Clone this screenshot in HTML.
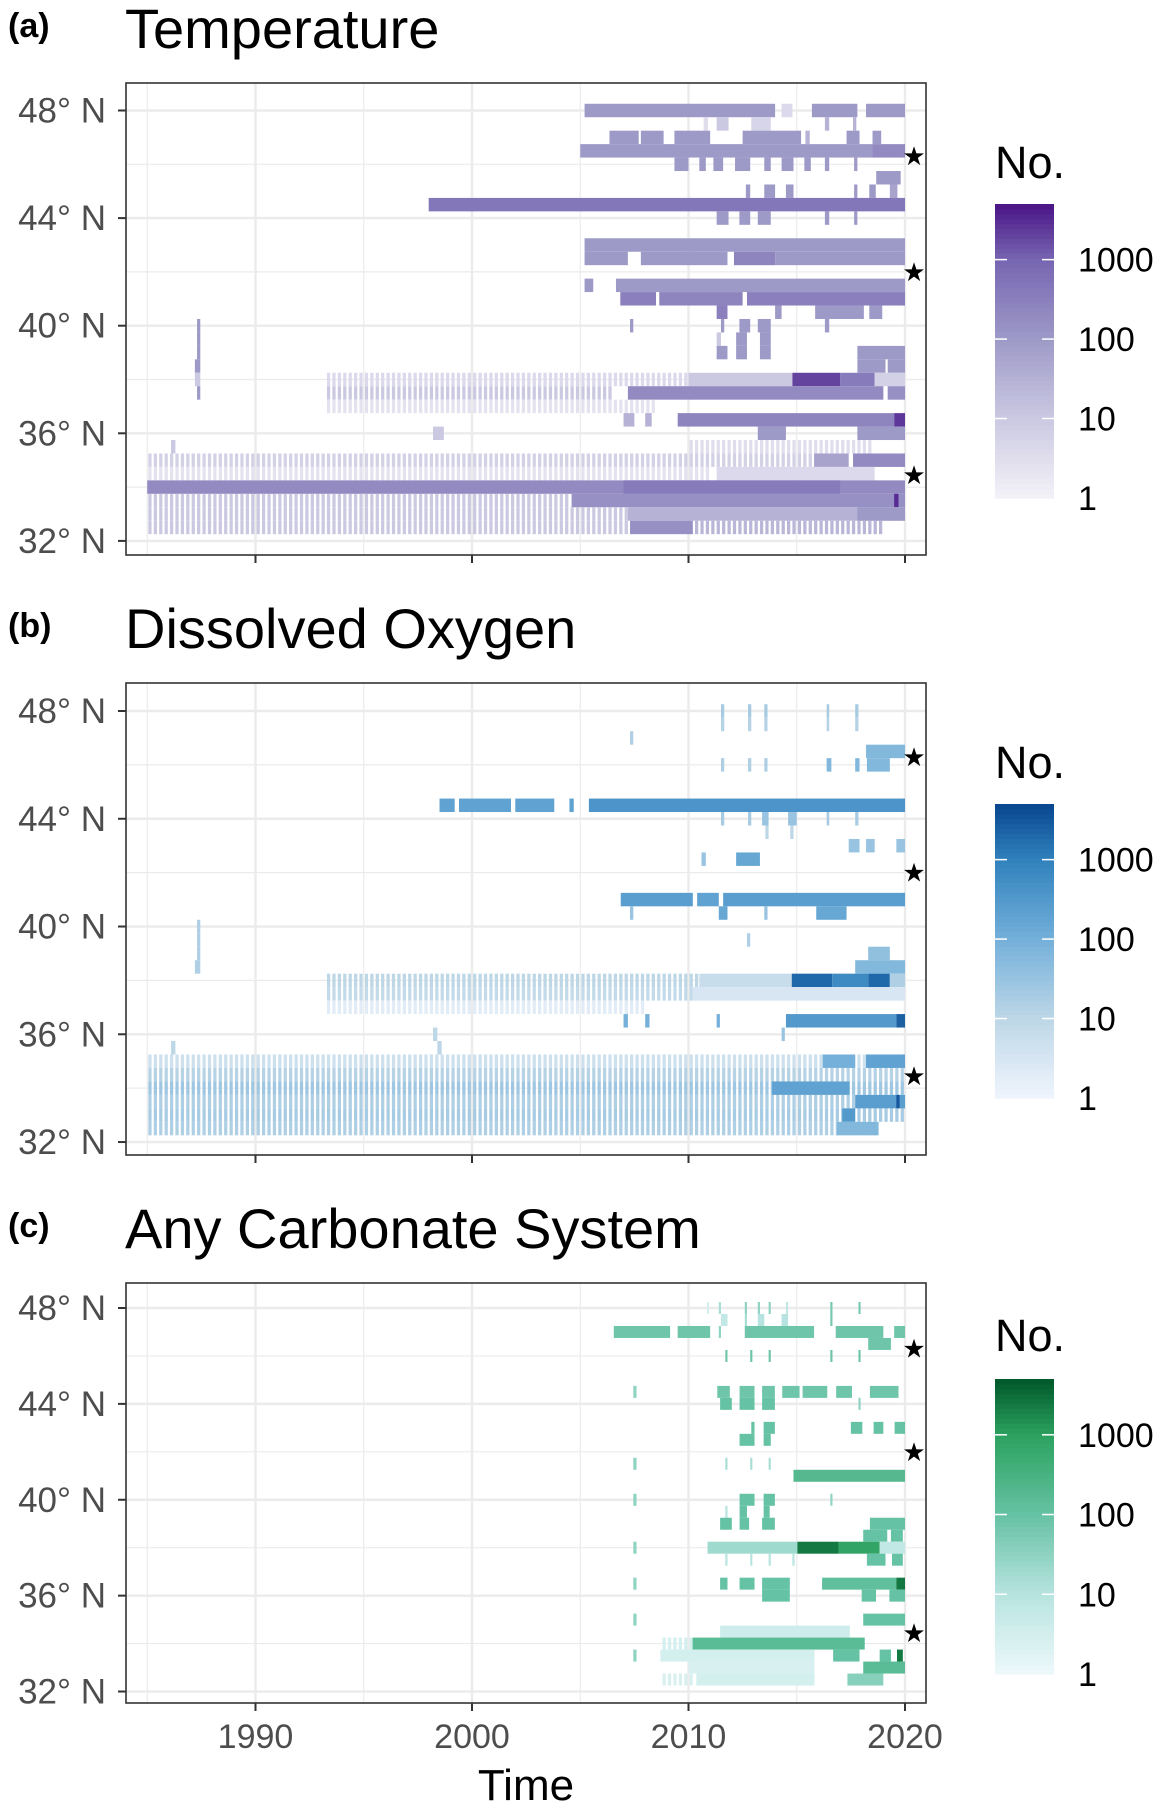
<!DOCTYPE html>
<html><head><meta charset="utf-8">
<style>
html,body{margin:0;padding:0;background:#fff;}
svg{display:block;font-family:"Liberation Sans",sans-serif;}
</style></head>
<body>
<svg id="fig" width="1168" height="1811" viewBox="0 0 1168 1811" xmlns="http://www.w3.org/2000/svg"></svg>
<script>
// ---------- data ----------
const xTickYears = [1990, 2000, 2010, 2020];
const xMinorYears = [1985, 1995, 2005, 2015];
const yTickLats = [48, 44, 40, 36, 32];
const yMinorLats = [46, 42, 38, 34];
const yTickLabels = ["48° N", "44° N", "40° N", "36° N", "32° N"];
const legendTicks = [1000, 100, 10, 1];
const legendLabels = ["1000", "100", "10", "1"];
const starLats = [46.3, 42.0, 34.45];
const cruiseYears = [1985,1986,1987,1988,1989,1990,1991,1992,1993,1994,1995,1996,1997,1998,1999,2000,2001,2002,2003,2004,2005,2006,2007,2008,2009,2010,2011,2012,2013,2014,2015,2016,2017,2018,2019];
const cruiseQuarters = [0.05, 0.3, 0.55, 0.8];

// panel a: temperature  [start year, end year, log10 count, 's' = cruise stripes]
const latsA = [48,47.5,47,46.5,46,45.5,45,44.5,44,43,42.5,41.5,41,40.5,40,39.5,39,38.5,38,37.5,37,36.5,36,35.5,35,34.5,34,33.5,33,32.5];
const segsA = [
 [[2005.2,2014.0,2.0],[2015.7,2017.8,2.0],[2018.2,2020,2.0],[2014.3,2014.8,0.6]],
 [[2011.3,2011.85,1.0],[2012.9,2013.8,0.7],[2010.7,2010.9,0.5],[2016.3,2016.5,1.5],[2017.6,2017.75,1.5]],
 [[2006.35,2007.7,2.0],[2007.8,2008.85,2.0],[2009.35,2011.0,2.0],[2012.5,2015.2,2.0],[2015.4,2015.6,1.5],[2017.3,2017.9,2.0],[2018.5,2018.9,2.0]],
 [[2005.0,2018.5,2.0],[2018.5,2020,2.3]],
 [[2009.35,2010.0,2.0],[2010.5,2010.8,2.0],[2011.15,2011.6,2.0],[2012.15,2012.85,2.0],[2013.5,2013.8,2.0],[2014.3,2014.85,2.0],[2015.35,2015.65,2.0],[2016.3,2016.5,2.0],[2017.65,2017.8,2.0]],
 [[2018.67,2019.8,2.0]],
 [[2012.65,2012.85,2.0],[2013.5,2014.0,2.0],[2014.5,2014.85,2.0],[2017.65,2017.8,2.0],[2018.35,2018.65,2.0],[2019.3,2019.65,1.8]],
 [[1998.0,2020,2.7]],
 [[2011.3,2011.85,2.0],[2012.35,2012.85,2.0],[2013.2,2013.8,2.0],[2016.3,2016.5,2.0],[2017.65,2017.8,2.0]],
 [[2005.2,2020,2.0]],
 [[2005.2,2007.2,2.0],[2007.8,2011.8,2.0],[2012.1,2014.0,2.4],[2014.0,2020,2.0]],
 [[2005.2,2005.6,2.0],[2006.65,2020,2.0]],
 [[2006.85,2008.5,2.5],[2008.65,2012.5,2.4],[2012.7,2020,2.5]],
 [[2011.3,2011.8,2.5],[2014.0,2014.3,2.0],[2015.85,2018.1,2.0],[2018.35,2018.95,2.0]],
 [[2007.3,2007.45,2.0],[2011.5,2011.65,2.0],[2012.35,2012.85,2.0],[2013.2,2013.8,2.0],[2016.3,2016.5,2.0],[1987.3,1987.45,2.0]],
 [[2012.2,2012.7,2.0],[2013.3,2013.8,2.0],[1987.3,1987.45,2.0],[2011.3,2011.5,1.0]],
 [[2011.3,2011.8,2.0],[2012.2,2012.7,2.0],[2013.3,2013.8,2.0],[2017.8,2020,2.0],[1987.3,1987.45,2.0]],
 [[2017.8,2019.1,2.0],[2019.2,2020,2.0],[1987.2,1987.45,2.0]],
 [[1993.2,2010,0.6,'s'],[2010,2014.8,1.0],[2014.8,2017.0,3.3],[2017.0,2018.6,2.6],[2018.6,2020,0.8],[1987.2,1987.45,1.0]],
 [[1993.2,2006.6,1.0,'s'],[2007.2,2019,2.3],[2019.2,2020,2.2],[1987.3,1987.45,2.0]],
 [[1993.3,2008.6,0.4,'s']],
 [[2007.0,2007.5,1.5],[2008.0,2008.3,1.5],[2009.5,2019.5,2.4],[2019.5,2020,3.4]],
 [[2013.2,2014.5,2.0],[2017.8,2020,2.0],[1998.2,1998.7,1.0]],
 [[2010,2018.5,0.5,'s'],[1986.1,1986.3,1.0]],
 [[1985,2015.8,0.8,'s'],[2015.8,2017.4,1.8],[2017.6,2020,2.3]],
 [[1985,2011,0.4,'s'],[2011.3,2018.6,0.6]],
 [[1985,2020,2.3],[2007,2017,2.6]],
 [[1985,2004.6,1.0,'s'],[2004.6,2020,2.2],[2019.5,2019.7,3.5]],
 [[1985,2007.2,1.0,'s'],[2007.2,2020,1.5],[2017.8,2020,2.0]],
 [[1985,2007.2,1.0,'s'],[2007.3,2010.2,2.2],[2010.2,2019,1.4,'s']]
];

// panel b: dissolved oxygen
const latsB = [48,47.5,47,46.5,46,44.5,44,43.5,43,42.5,41,40.5,40,39.5,39,38.5,38,37.5,37,36.5,36,35.5,35,34.5,34,33.5,33,32.5];
const segsB = [
 [[2011.5,2011.65,1.3],[2012.75,2012.9,1.3],[2013.5,2013.65,1.3],[2016.38,2016.5,1.3],[2017.7,2017.85,1.3]],
 [[2011.5,2011.65,1.1],[2012.75,2012.9,1.1],[2013.5,2013.65,1.1],[2016.38,2016.5,1.1],[2017.7,2017.85,1.1]],
 [[2007.3,2007.45,1.2]],
 [[2018.2,2020,1.8]],
 [[2011.5,2011.65,1.2],[2012.75,2012.9,1.2],[2013.5,2013.65,1.2],[2016.38,2016.6,1.8],[2017.7,2017.9,1.8],[2018.24,2019.3,1.8]],
 [[1998.5,1999.2,2.3],[1999.4,2001.8,2.3],[2002.0,2003.8,2.3],[2004.5,2004.7,2.3],[2005.4,2020,2.6]],
 [[2011.5,2011.65,1.3],[2012.75,2012.9,1.3],[2013.4,2013.7,1.5],[2014.6,2015.0,1.5],[2016.38,2016.5,1.3],[2017.7,2017.85,1.3]],
 [[2013.55,2013.7,1.0],[2014.7,2014.85,1.0]],
 [[2017.4,2017.9,1.5],[2018.2,2018.6,1.5],[2019.6,2020,1.5]],
 [[2010.6,2010.8,1.5],[2012.2,2013.3,2.2]],
 [[2006.87,2010.2,2.4],[2010.4,2011.4,2.3],[2011.6,2020,2.4]],
 [[2011.4,2011.8,2.2],[2015.9,2017.3,2.2],[2007.3,2007.45,1.5],[2013.5,2013.65,1.5]],
 [[1987.3,1987.45,1.2]],
 [[2012.7,2012.85,1.2],[1987.3,1987.45,1.2]],
 [[2018.3,2019.3,1.6],[1987.3,1987.45,1.2]],
 [[2017.7,2020,1.8],[1987.2,1987.45,1.2]],
 [[1993.15,2010.5,1.0,'s'],[2010.5,2014.77,0.8],[2014.77,2016.64,3.3],[2016.64,2018.3,2.8],[2018.3,2019.3,3.3],[2019.3,2020,1.2]],
 [[1993.15,2010.2,0.9,'s'],[2010.2,2020,0.5]],
 [[1993.15,2008.1,0.3,'s']],
 [[2007.0,2007.2,2.0],[2008.0,2008.2,2.0],[2011.3,2011.45,2.0],[2014.5,2019.6,2.5],[2019.6,2020,3.4]],
 [[1998.2,1998.4,1.0],[2014.3,2014.45,1.5]],
 [[1998.4,1998.6,1.0],[1986.1,1986.3,1.0]],
 [[1985,2020,0.7,'s'],[2016.2,2017.7,2.0],[2018.2,2020,2.3]],
 [[1985,2020,1.1,'s']],
 [[1985,2020,1.4,'s'],[2013.86,2017.44,2.3]],
 [[1985,2020,1.2,'s'],[2017.7,2020,2.4],[2019.6,2019.75,3.5]],
 [[1985,2020,1.3,'s'],[2017.1,2017.7,2.5]],
 [[1985,2018.8,1.2,'s'],[2016.85,2018.78,1.8]]
];

// panel c: any carbonate system
const latsC = [48,47.5,47,46.5,46,44.5,44,43,42.5,41.5,41,40,39.5,39,38.5,38,37.5,36.5,36,35,34.5,34,33.5,33,32.5];
const segsC = [
 [[2011.4,2011.5,1.2],[2012.6,2012.7,1.5],[2013.2,2013.3,1.5],[2013.7,2013.8,1.5],[2016.55,2016.65,1.8],[2017.85,2017.95,1.8],[2010.85,2010.95,0.5],[2014.5,2014.6,0.8]],
 [[2011.5,2011.8,0.8],[2012.6,2012.7,1.2],[2013.2,2013.5,1.0],[2014.3,2014.6,1.0],[2016.55,2016.65,1.8]],
 [[2006.55,2009.15,1.9],[2009.5,2011.0,1.9],[2011.4,2011.5,1.5],[2012.6,2015.8,1.9],[2016.8,2019.0,1.9],[2019.5,2020,1.9]],
 [[2018.3,2019.35,1.9]],
 [[2011.7,2011.8,1.9],[2012.85,2012.95,1.9],[2013.7,2013.8,1.9],[2016.55,2016.65,1.9],[2017.85,2017.95,1.9]],
 [[2007.45,2007.6,1.5],[2011.33,2011.91,1.9],[2012.36,2013.05,1.9],[2013.4,2013.99,1.9],[2014.33,2015.13,1.9],[2015.27,2016.41,1.9],[2016.82,2017.55,1.9],[2018.38,2019.7,1.9]],
 [[2011.46,2012.0,2.0],[2012.36,2013.05,2.0],[2013.4,2013.99,2.0],[2017.85,2017.95,1.5]],
 [[2012.9,2013.05,2.0],[2013.47,2013.99,2.0],[2017.5,2018.03,2.0],[2018.55,2019.0,2.0],[2019.52,2020,2.0]],
 [[2012.36,2013.05,2.0],[2013.47,2013.8,2.0]],
 [[2007.45,2007.6,1.5],[2011.7,2011.8,1.2],[2012.85,2012.95,1.2],[2013.7,2013.8,1.2]],
 [[2014.85,2020,2.3]],
 [[2007.45,2007.6,1.5],[2012.36,2013.05,2.0],[2013.47,2013.99,2.0],[2016.55,2016.65,1.5]],
 [[2012.36,2012.7,2.0],[2013.47,2013.75,2.0],[2011.7,2011.8,1.0]],
 [[2011.46,2012.0,2.0],[2012.36,2012.8,2.0],[2013.4,2013.99,2.0],[2018.38,2020,2.0]],
 [[2018.07,2019.18,2.0],[2019.35,2019.9,2.0]],
 [[2007.45,2007.6,1.5],[2010.88,2015.03,1.3],[2015.03,2016.93,3.4],[2016.93,2018.83,2.9],[2018.83,2020,0.8]],
 [[2018.24,2019.1,2.0],[2019.4,2019.9,2.0],[2011.7,2011.8,1.0],[2012.85,2012.95,1.0],[2013.7,2013.8,1.0],[2014.8,2014.9,1.0]],
 [[2007.45,2007.6,1.5],[2011.46,2011.8,2.0],[2012.36,2013.05,2.0],[2013.4,2014.68,2.0],[2016.17,2019.6,2.1],[2019.6,2020,3.4]],
 [[2013.4,2014.68,2.0],[2018.0,2018.66,2.0],[2019.28,2020,2.0]],
 [[2007.45,2007.6,1.5],[2018.07,2020,2.0]],
 [[2011.46,2017.45,0.6]],
 [[2008.7,2010.19,0.5,'s'],[2010.19,2018.14,2.2]],
 [[2007.45,2007.6,1.5],[2008.7,2015.82,0.5],[2016.68,2017.9,2.0],[2018.83,2019.35,2.0],[2019.63,2019.9,3.4]],
 [[2010.0,2015.82,0.4],[2018.07,2020,2.2]],
 [[2008.7,2010.36,0.4,'s'],[2010.36,2015.82,0.5],[2017.34,2019.0,1.6]]
];

// ---------- drawing ----------
const NS = "http://www.w3.org/2000/svg";
const svg = document.getElementById("fig");
function mk(tag, attrs, parent) {
  const e = document.createElementNS(NS, tag);
  for (const k in attrs) e.setAttribute(k, attrs[k]);
  (parent || svg).appendChild(e);
  return e;
}
const palettes = {
  purple: ["#f4f2f8", "#cbc9e2", "#9e9ac8", "#7766b2", "#4a1486"],
  blue:   ["#f0f5fd", "#bdd7e7", "#74b0da", "#3182bd", "#08468f"],
  green:  ["#eef9fb", "#b7e4e0", "#66c2a4", "#2ca25f", "#00582a"]
};
function hex2rgb(h){return [parseInt(h.slice(1,3),16),parseInt(h.slice(3,5),16),parseInt(h.slice(5,7),16)];}
function colorAt(pal, lv) {
  const stops = palettes[pal];
  const pos = [0, 1, 2, 3, 3.7];
  lv = Math.max(0, Math.min(3.7, lv));
  let i = 0;
  while (i < pos.length - 2 && lv > pos[i + 1]) i++;
  const t = (lv - pos[i]) / (pos[i + 1] - pos[i]);
  const a = hex2rgb(stops[i]), b = hex2rgb(stops[i + 1]);
  return "rgb(" + a.map((v, j) => Math.round(v + (b[j] - v) * t)).join(",") + ")";
}
const X0 = 126, X1 = 926;
function xScale(yr) { return 255.5 + (yr - 1990) * 21.65; }

const panels = [
  {key:"a", label:"(a)", title:"Temperature", top:83, bottom:555, lat48:110.5, pxDeg:26.9, pal:"purple", lats:latsA, segs:segsA, legTop:204, legBot:498, noY:162},
  {key:"b", label:"(b)", title:"Dissolved Oxygen", top:683, bottom:1155, lat48:711, pxDeg:26.94, pal:"blue", lats:latsB, segs:segsB, legTop:804, legBot:1098, noY:762},
  {key:"c", label:"(c)", title:"Any Carbonate System", top:1283, bottom:1703, lat48:1308, pxDeg:23.97, pal:"green", lats:latsC, segs:segsC, legTop:1379, legBot:1674, noY:1335}
];

panels.forEach((p, pi) => {
  const g = mk("g", {});
  
  
  const yScale = lat => p.lat48 + (48 - lat) * p.pxDeg;
  const rowH = p.pxDeg * 0.5;

  const lab = mk("text", {x: 8, y: p.top - 46, "font-size": 34, "font-weight": "bold", fill: "#000"}, g);
  lab.textContent = p.label;
  
  
  const tt = mk("text", {x: 125, y: p.top - 35, "font-size": 56, fill: "#000"}, g);
  tt.textContent = p.title;
  
  

  xMinorYears.forEach(yr => {
    const l = mk("line", {x1: xScale(yr), x2: xScale(yr), y1: p.top, y2: p.bottom, stroke: "#ebebeb", "stroke-width": 1.2}, g);
    
    
  });
  yMinorLats.forEach(lt => {
    const l = mk("line", {x1: X0, x2: X1, y1: yScale(lt), y2: yScale(lt), stroke: "#ebebeb", "stroke-width": 1.2}, g);
    
    
  });
  xTickYears.forEach(yr => {
    const l = mk("line", {x1: xScale(yr), x2: xScale(yr), y1: p.top, y2: p.bottom, stroke: "#ebebeb", "stroke-width": 2.4}, g);
    
    
  });
  yTickLats.forEach(lt => {
    const l = mk("line", {x1: X0, x2: X1, y1: yScale(lt), y2: yScale(lt), stroke: "#ebebeb", "stroke-width": 2.4}, g);
    
    
  });

  const cg = mk("g", {}, g);
  
  
  p.lats.forEach((lat, ri) => {
    const yTop = yScale(lat) - rowH / 2;
    p.segs[ri].forEach(s => {
      const col = colorAt(p.pal, s[2]);
      if (s[3] === 's') {
        cruiseYears.forEach(yr => {
          cruiseQuarters.forEach(q => {
            const t = yr + q;
            if (t >= s[0] && t + 0.15 <= s[1] + 0.01) {
              const r = mk("rect", {x: xScale(t), y: yTop, width: 0.15 * 21.65, height: rowH, fill: col}, cg);
              
              
            }
          });
        });
      } else {
        const r = mk("rect", {x: xScale(s[0]), y: yTop, width: Math.max(1.5, xScale(s[1]) - xScale(s[0])), height: rowH, fill: col}, cg);
        
        
      }
    });
  });

  starLats.forEach(lt => {
    const st = mk("text", {x: 914, y: yScale(lt) + 9, "font-size": 26, "text-anchor": "middle", fill: "#000", "font-family": "DejaVu Sans, sans-serif"}, g);
    st.textContent = "★";
    
    
  });

  const bd = mk("rect", {x: X0, y: p.top, width: X1 - X0, height: p.bottom - p.top, fill: "none", stroke: "#333", "stroke-width": 1.6}, g);
  
  

  yTickLats.forEach((lt, i) => {
    const tk = mk("line", {x1: X0 - 8, x2: X0, y1: yScale(lt), y2: yScale(lt), stroke: "#333", "stroke-width": 2}, g);
    
    
    const tl = mk("text", {x: X0 - 20, y: yScale(lt) + 12, "font-size": 35, "text-anchor": "end", fill: "#4d4d4d"}, g);
    tl.textContent = yTickLabels[i];
    
    
  });
  xTickYears.forEach(yr => {
    const tk = mk("line", {x1: xScale(yr), x2: xScale(yr), y1: p.bottom, y2: p.bottom + 8, stroke: "#333", "stroke-width": 2}, g);
    
    
    if (pi === 2) {
      const tl = mk("text", {x: xScale(yr), y: p.bottom + 45, "font-size": 34, "text-anchor": "middle", fill: "#4d4d4d"}, g);
      tl.textContent = String(yr);
      
      
    }
  });

  const lg = mk("g", {}, g);
  
  
  const nt = mk("text", {x: 995, y: p.noY + 16, "font-size": 45, fill: "#000"}, lg);
  nt.textContent = "No.";
  
  
  const decade = (p.legBot - p.legTop) / 3.7;
  const nSteps = 60;
  for (let k = 0; k < nSteps; k++) {
    const lv0 = 3.7 * k / nSteps;
    const r = mk("rect", {x: 995, y: p.legBot - (k + 1) * decade * 3.7 / nSteps, width: 59, height: decade * 3.7 / nSteps + 0.6, fill: colorAt(p.pal, lv0 + 3.7 / nSteps / 2)}, lg);
    
    
  }
  legendTicks.forEach((v, i) => {
    const yy = p.legBot - Math.log10(v) * decade;
    if (v > 1) {
      const t1 = mk("line", {x1: 995, x2: 1007, y1: yy, y2: yy, stroke: "#fff", "stroke-width": 1.5}, lg);
      
      
      const t2 = mk("line", {x1: 1042, x2: 1054, y1: yy, y2: yy, stroke: "#fff", "stroke-width": 1.5}, lg);
      
      
    }
    const tl = mk("text", {x: 1078, y: yy + 12, "font-size": 34, fill: "#000"}, lg);
    tl.textContent = legendLabels[i];
    
    
  });
});

const xt = mk("text", {x: 526, y: 1800, "font-size": 44, "text-anchor": "middle", fill: "#000"});
xt.textContent = "Time";


</script>
</body></html>
